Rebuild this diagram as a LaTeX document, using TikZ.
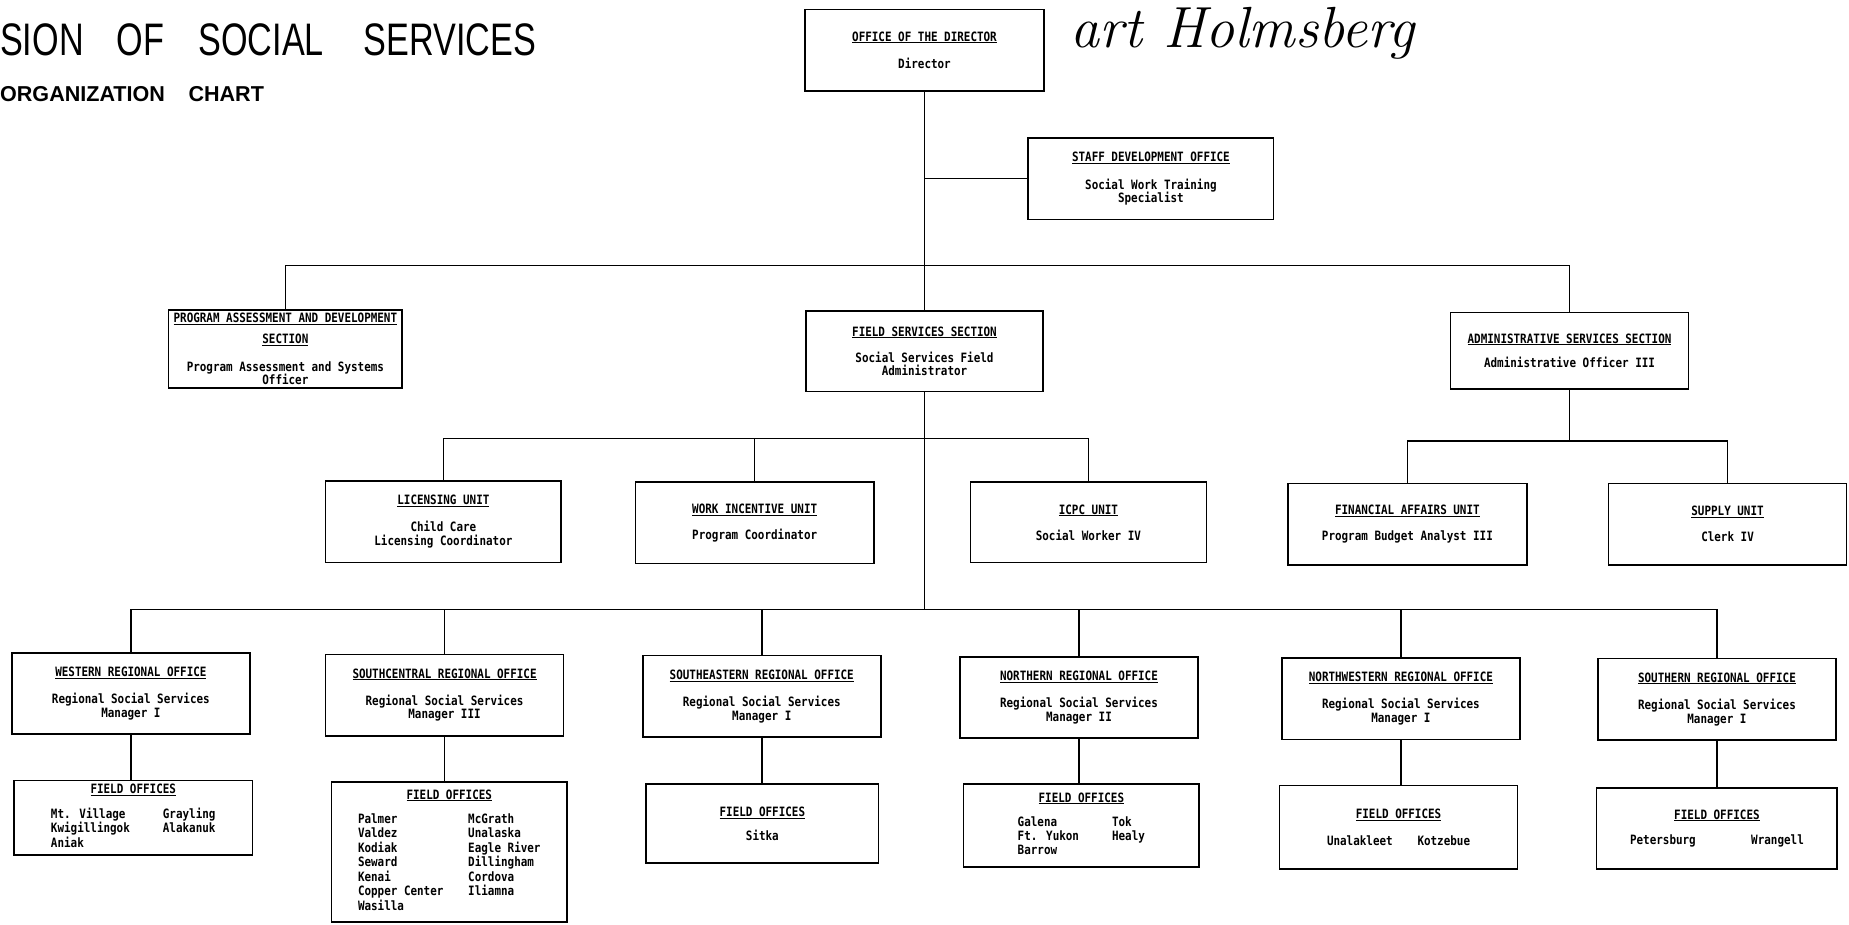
\documentclass[tikz,border=0pt]{standalone}
\usepackage{fontspec}
\usepackage{tikz}
\usetikzlibrary{positioning,calc}
\newfontfamily\chartfont{DejaVu Sans Mono}[FakeStretch=0.85]
\newfontfamily\titlefont{Liberation Sans}[FakeStretch=0.75]
\newfontfamily\subtitlefont{Liberation Sans}

\begin{document}
\begin{tikzpicture}[x=0.05cm, y=-0.05cm,
    orgbox/.style n args={2}{draw, line width=2pt, align=center, inner sep=0pt,
        minimum width=#1*0.05cm, minimum height=#2*0.05cm,
        font=\chartfont\bfseries\fontsize{15.5pt}{16.5pt}\selectfont},
    link/.style={line width=1.9pt}]
    \useasboundingbox (0,0) rectangle (1568,784);

    % Title and signature
    \node [anchor=base west, inner sep=0pt, font=\titlefont\fontsize{55pt}{55pt}\selectfont] (title) at (0,47)
        {SION\hspace{1.4cm}OF\hspace{1.45cm}SOCIAL\hspace{1.7cm}SERVICES};
    \node [anchor=base west, inner sep=0pt, font=\subtitlefont\bfseries\fontsize{26pt}{26pt}\selectfont] (subtitle) at (0,86)
        {ORGANIZATION\hspace{1cm}CHART};
    \node [anchor=base west, inner sep=0pt, font=\rmfamily\itshape\fontsize{70pt}{70pt}\selectfont] (sign) at (908,40)
        {art Holmsberg};

    % Director level
    \node [orgbox={203}{69}] (dir) at (784,42.5) {\underline{OFFICE OF THE DIRECTOR}\\[0.57cm] Director};
    \node [orgbox={208}{69}] (staff) at (976,151.5) {\underline{STAFF DEVELOPMENT OFFICE}\\[0.6cm] Social Work Training\\ Specialist};

    % Sections
    \node [orgbox={198}{66}] (pad) at (242,296) {\underline{PROGRAM ASSESSMENT AND DEVELOPMENT}\\[0.32cm] \underline{SECTION}\\[0.57cm] Program Assessment and Systems\\ Officer};
    \node [orgbox={201}{68}] (fss) at (784,298) {\underline{FIELD SERVICES SECTION}\\[0.52cm] Social Services Field\\ Administrator};
    \node [orgbox={202}{65}] (ass) at (1331,297.5) {\underline{ADMINISTRATIVE SERVICES SECTION}\\[0.47cm] Administrative Officer III};

    % Units
    \node [orgbox={200}{69}] (lic) at (376,442.5) {\underline{LICENSING UNIT}\\[0.57cm] Child Care\\ Licensing Coordinator};
    \node [orgbox={202}{69}] (win) at (640,443.5) {\underline{WORK INCENTIVE UNIT}\\[0.52cm] Program Coordinator};
    \node [orgbox={200}{68}] (icpc) at (923,443) {\underline{ICPC UNIT}\\[0.52cm] Social Worker IV};
    \node [orgbox={203}{69}] (fin) at (1193.5,444.5) {\underline{FINANCIAL AFFAIRS UNIT}\\[0.52cm] Program Budget Analyst III};
    \node [orgbox={202}{69}] (sup) at (1465,444.5) {\underline{SUPPLY UNIT}\\[0.52cm] Clerk IV};

    % Regional offices
    \foreach \name/\x/\y/\label/\grade in {west/111/588/WESTERN/I, sc/377/589.5/SOUTHCENTRAL/III, se/646/590.5/SOUTHEASTERN/I,
        north/915/591.5/NORTHERN/II, nw/1188/592.5/NORTHWESTERN/I, south/1456/593/SOUTHERN/I} {
        \node [orgbox={202}{69}] (\name) at (\x,\y) {\underline{\label\ REGIONAL OFFICE}\\[0.57cm] Regional Social Services\\ Manager \grade};
    }

    % Field offices
    \node [orgbox={202}{63}] (fo1) at (113,693.5) {\underline{FIELD OFFICES}\\[0.5cm]
        \begin{tabular}{@{}l@{\hspace{1.4cm}}l@{}}Mt. Village & Grayling\\ Kwigillingok & Alakanuk\\ Aniak &\end{tabular}};
    \node [orgbox={200}{119}] (fo2) at (381,722.5) {\underline{FIELD OFFICES}\\[0.52cm]
        \begin{tabular}{@{}l@{\hspace{1.05cm}}l@{}}Palmer & McGrath\\ Valdez & Unalaska\\ Kodiak & Eagle River\\ Seward & Dillingham\\
        Kenai & Cordova\\ Copper Center & Iliamna\\ Wasilla &\end{tabular}};
    \node [orgbox={197}{67}] (fo3) at (646.5,698.5) {\underline{FIELD OFFICES}\\[0.42cm] Sitka};
    \node [orgbox={200}{70}] (fo4) at (917,700) {\underline{FIELD OFFICES}\\[0.52cm]
        \begin{tabular}{@{}l@{\hspace{1.4cm}}l@{}}Galena & Tok\\ Ft. Yukon & Healy\\ Barrow &\end{tabular}};
    \node [orgbox={202}{71}] (fo5) at (1186,701.5) {\underline{FIELD OFFICES}\\[0.55cm] Unalakleet\hspace{1.05cm}Kotzebue};
    \node [orgbox={204}{69}] (fo6) at (1456,702.5) {\underline{FIELD OFFICES}\\[0.5cm] Petersburg\hspace{2.35cm}Wrangell};

    % Connecting lines
    \coordinate (tbar) at (784,225);
    \coordinate (ubar) at (784,372);
    \coordinate (abar) at (1331,374);
    \coordinate (rbar) at (784,517);
    \draw [link] (dir) -- (fss);
    \draw [link] (staff.west) -- (staff.west -| dir.south);
    \draw [link] (pad.north) |- (tbar) -| (ass.north);
    \draw [link] (fss.south) -- (rbar);
    \draw [link] (lic.north) |- (ubar) -| (icpc.north);
    \draw [link] (win.north) -- (win.north |- ubar);
    \draw [link] (ass.south) -- (abar);
    \draw [link] (fin.north) |- (abar) -| (sup.north);
    \draw [link] (west.north) |- (rbar) -| (south.north);
    \foreach \r in {sc,se,north,nw} {
        \draw [link] (\r.north) -- (\r.north |- rbar);
    }
    \foreach \r/\f in {west/fo1, sc/fo2, se/fo3, north/fo4, nw/fo5, south/fo6} {
        \draw [link] (\r.south) -- (\r.south |- \f.north);
    }
\end{tikzpicture}
\end{document}
